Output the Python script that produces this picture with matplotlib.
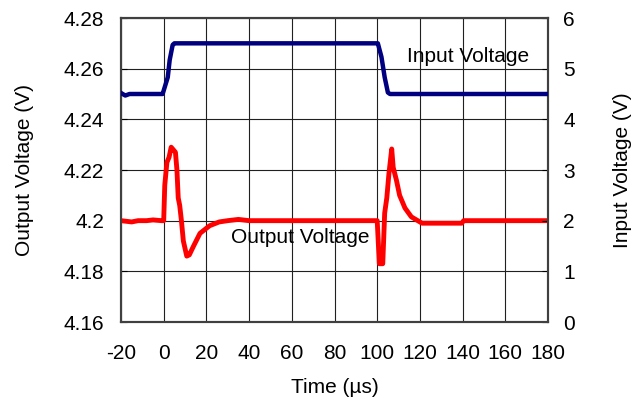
import matplotlib
matplotlib.use("Agg")
import matplotlib.pyplot as plt

plt.rcParams["font.family"] = ["Liberation Sans", "DejaVu Sans"]
plt.rcParams["axes.unicode_minus"] = False

# output voltage trace (time in us, volts)
out_t = [-20, -15, -12, -8, -5, -1, 0, 0.5, 1.5, 2.5, 3.5, 4.5, 5.5, 6.2, 6.8, 7.5,
         8.3, 9.2, 10.8, 12, 14, 17, 21.5, 26, 30, 35, 40, 100, 100.3, 101, 102.6,
         103.5, 104.5, 105.5, 106.8, 107.5, 109, 110.5, 113, 116, 121, 139.6, 140.5, 180]
out_v = [4.2, 4.1995, 4.2, 4.2, 4.2003, 4.2, 4.2, 4.214, 4.223, 4.225, 4.229, 4.228, 4.227, 4.22,
         4.209, 4.206, 4.2, 4.192, 4.186, 4.1865, 4.19, 4.195, 4.198, 4.1995, 4.2, 4.2005, 4.2,
         4.2, 4.195, 4.183, 4.183, 4.203, 4.209, 4.2186, 4.2283, 4.221, 4.216, 4.21, 4.205,
         4.2015, 4.199, 4.199, 4.2, 4.2]

# input voltage trace
in_t = [-20, -18, -16, -1, -0.5, 1.9, 2.8, 4.2, 5, 100, 100.3, 102, 103.5, 105, 106, 180]
in_v = [4.52, 4.47, 4.5, 4.5, 4.5, 4.83, 5.17, 5.47, 5.5, 5.5, 5.5, 5.23, 4.83, 4.53, 4.5, 4.5]

x_ticks = list(range(-20, 181, 20))
left_ticks = [4.16, 4.18, 4.2, 4.22, 4.24, 4.26, 4.28]
left_labels = ["4.16", "4.18", "4.2", "4.22", "4.24", "4.26", "4.28"]
right_ticks = [0, 1, 2, 3, 4, 5, 6]

fs = 15

fig = plt.figure(figsize=(6.41, 4.05), dpi=100)
ax = fig.add_axes([121 / 641, 83 / 405, 427 / 641, 304 / 405])
ax2 = ax.twinx()

ax.plot(out_t, out_v, color="#ff0000", lw=3.5, solid_joinstyle="round", zorder=3)
ax2.plot(in_t, in_v, color="#000080", lw=3.2, solid_joinstyle="round", zorder=3)

ax.set_xlim(-20, 180)
ax.set_ylim(4.16, 4.28)
ax2.set_ylim(0, 6)
ax.set_xticks(x_ticks)
ax.set_yticks(left_ticks)
ax.set_yticklabels(left_labels)
ax2.set_yticks(right_ticks)

ax.grid(True, color="#202020", lw=0.8)
ax.set_axisbelow(True)

for a in (ax, ax2):
    for s in a.spines.values():
        s.set_color("#404040")
        s.set_linewidth(1.5)
ax.tick_params(axis="x", length=0, pad=16, labelsize=fs)
ax.tick_params(axis="y", direction="in", length=4, pad=12, labelsize=fs)
ax2.tick_params(axis="y", direction="in", length=4, pad=11, labelsize=fs)

ax.set_xlabel("Time (µs)", fontsize=fs)
ax.set_ylabel("Output Voltage (V)", fontsize=fs)
ax2.set_ylabel("Input Voltage (V)", fontsize=fs)
ax.xaxis.set_label_coords(0.5, -0.184)
ax.yaxis.set_label_coords(-0.204, 0.5)
ax2.yaxis.set_label_coords(1.152, 0.5)

ax2.text(142.5, 5.25, "Input Voltage", fontsize=fs, ha="center", va="center")
ax.text(64, 4.1935, "Output Voltage", fontsize=fs, ha="center", va="center", zorder=4)

fig.savefig("out.png", dpi=100)
